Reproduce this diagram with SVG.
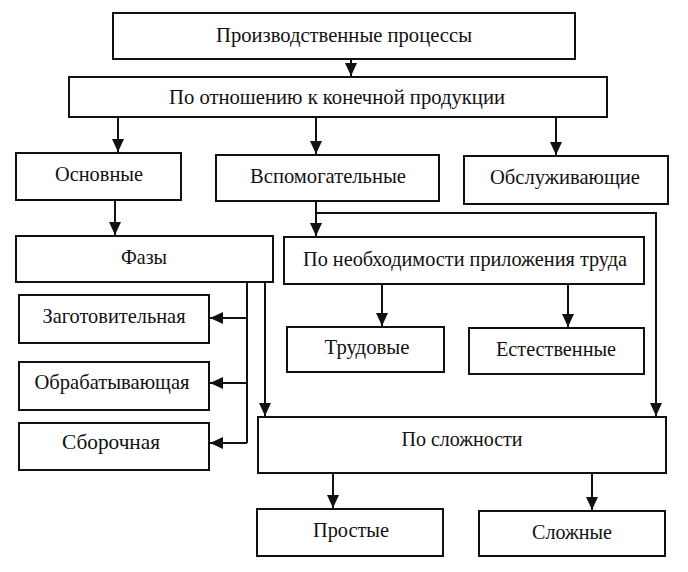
<svg xmlns="http://www.w3.org/2000/svg" width="688" height="572" viewBox="0 0 688 572">
<style>
.box{fill:#fff;stroke:#111;stroke-width:2}
.lbl{font-family:"Liberation Serif","Times New Roman",serif;font-size:21px;fill:#111;text-anchor:middle}
.c{fill:none;stroke:#111;stroke-width:2}
</style>
<defs>
<marker id="ah" markerUnits="userSpaceOnUse" markerWidth="14" markerHeight="12" refX="13" refY="6" orient="auto">
<path d="M0,0 L13,6 L0,12 Z" fill="#111"/>
</marker>
</defs>
<rect width="688" height="572" fill="#fff"/>
<g id="connectors">
<path class="c" d="M351,59 V76" marker-end="url(#ah)"/>
<path class="c" d="M118,117 V152" marker-end="url(#ah)"/>
<path class="c" d="M316,117 V154" marker-end="url(#ah)"/>
<path class="c" d="M556,117 V155" marker-end="url(#ah)"/>
<path class="c" d="M115,200 V235" marker-end="url(#ah)"/>
<path class="c" d="M316,201 V236" marker-end="url(#ah)"/>
<path class="c" d="M316,213 H656 V416" marker-end="url(#ah)"/>
<path class="c" d="M247,282 V443"/>
<path class="c" d="M247,318 H210" marker-end="url(#ah)"/>
<path class="c" d="M247,383 H210" marker-end="url(#ah)"/>
<path class="c" d="M247,443 H210" marker-end="url(#ah)"/>
<path class="c" d="M265,282 V416" marker-end="url(#ah)"/>
<path class="c" d="M382,284 V326" marker-end="url(#ah)"/>
<path class="c" d="M568,284 V327" marker-end="url(#ah)"/>
<path class="c" d="M333,473 V508" marker-end="url(#ah)"/>
<path class="c" d="M592,473 V510" marker-end="url(#ah)"/>
</g>
<g id="n_proc"><rect class="box" x="113" y="13" width="462" height="46"/><text class="lbl" x="344" y="42" textLength="256" lengthAdjust="spacingAndGlyphs">Производственные процессы</text></g>
<g id="n_otn"><rect class="box" x="69" y="77" width="538" height="40"/><text class="lbl" x="337" y="104" textLength="336" lengthAdjust="spacingAndGlyphs">По отношению к конечной продукции</text></g>
<g id="n_osn"><rect class="box" x="16" y="153" width="165" height="47"/><text class="lbl" x="99" y="181" textLength="88" lengthAdjust="spacingAndGlyphs">Основные</text></g>
<g id="n_vsp"><rect class="box" x="216" y="155" width="223" height="46"/><text class="lbl" x="328" y="183" textLength="156" lengthAdjust="spacingAndGlyphs">Вспомогательные</text></g>
<g id="n_obs"><rect class="box" x="464" y="156" width="204" height="48"/><text class="lbl" x="565" y="184" textLength="150" lengthAdjust="spacingAndGlyphs">Обслуживающие</text></g>
<g id="n_faz"><rect class="box" x="16" y="236" width="257" height="46"/><text class="lbl" x="144" y="264" textLength="46" lengthAdjust="spacingAndGlyphs">Фазы</text></g>
<g id="n_neob"><rect class="box" x="284" y="237" width="360" height="47"/><text class="lbl" x="465" y="266" textLength="324" lengthAdjust="spacingAndGlyphs">По необходимости приложения труда</text></g>
<g id="n_zag"><rect class="box" x="19" y="295" width="190" height="48"/><text class="lbl" x="114" y="323" textLength="143" lengthAdjust="spacingAndGlyphs">Заготовительная</text></g>
<g id="n_obr"><rect class="box" x="19" y="362" width="190" height="48"/><text class="lbl" x="112" y="389" textLength="155" lengthAdjust="spacingAndGlyphs">Обрабатывающая</text></g>
<g id="n_sbor"><rect class="box" x="19" y="423" width="190" height="47"/><text class="lbl" x="111" y="449" textLength="98" lengthAdjust="spacingAndGlyphs">Сборочная</text></g>
<g id="n_trud"><rect class="box" x="287" y="327" width="157" height="45"/><text class="lbl" x="367" y="354" textLength="85" lengthAdjust="spacingAndGlyphs">Трудовые</text></g>
<g id="n_est"><rect class="box" x="469" y="328" width="175" height="46"/><text class="lbl" x="556" y="356" textLength="120" lengthAdjust="spacingAndGlyphs">Естественные</text></g>
<g id="n_slozhn"><rect class="box" x="258" y="417" width="408" height="56"/><text class="lbl" x="462" y="446" textLength="121" lengthAdjust="spacingAndGlyphs">По сложности</text></g>
<g id="n_prost"><rect class="box" x="257" y="509" width="186" height="47"/><text class="lbl" x="351" y="537" textLength="76" lengthAdjust="spacingAndGlyphs">Простые</text></g>
<g id="n_slozh"><rect class="box" x="479" y="511" width="186" height="45"/><text class="lbl" x="572" y="539" textLength="80" lengthAdjust="spacingAndGlyphs">Сложные</text></g>
</svg>
